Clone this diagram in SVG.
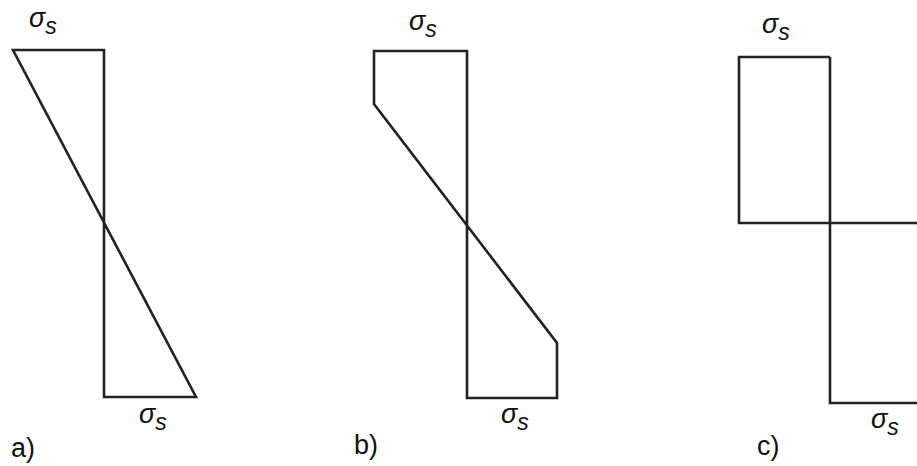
<svg xmlns="http://www.w3.org/2000/svg" width="917" height="466" viewBox="0 0 917 466">
<style>
.ln{fill:none;stroke:#222;stroke-width:2.6;stroke-linejoin:miter}
.sg{font-family:"Liberation Sans",Arial,sans-serif;font-style:italic;font-size:27px;fill:#111}
.sub{font-size:23px}
.lb{font-family:"Liberation Sans",Arial,sans-serif;font-size:27px;fill:#111}
</style>
<rect width="917" height="466" fill="#fff"/>
<g id="diagram-a">
<path class="ln" d="M104,50 L13,50 L196,397 L104,397 Z"/>
<text class="sg" x="29" y="27">σ<tspan class="sub" dy="7">s</tspan></text>
<text class="sg" x="139" y="423">σ<tspan class="sub" dy="7">s</tspan></text>
<text class="lb" x="11" y="457">a)</text>
</g>
<g id="diagram-b">
<path class="ln" d="M467,51 L374,51 L374,104 L557,343 L557,398 L467,398 Z"/>
<text class="sg" x="409" y="30">σ<tspan class="sub" dy="7">s</tspan></text>
<text class="sg" x="501" y="423">σ<tspan class="sub" dy="7">s</tspan></text>
<text class="lb" x="354" y="454">b)</text>
</g>
<g id="diagram-c">
<path class="ln" d="M830,57 L739,57 L739,223 L917,223"/>
<path class="ln" d="M830,57 L830,403 L917,403"/>
<text class="sg" x="762" y="33">σ<tspan class="sub" dy="7">s</tspan></text>
<text class="sg" x="871" y="428">σ<tspan class="sub" dy="7">s</tspan></text>
<text class="lb" x="757" y="455">c)</text>
</g>
</svg>
